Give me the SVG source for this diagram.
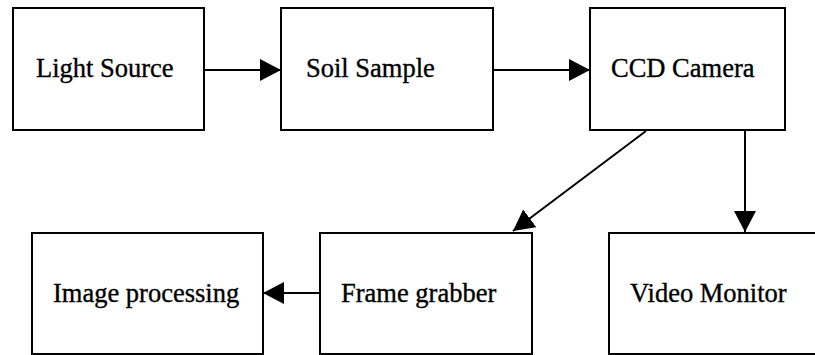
<svg xmlns="http://www.w3.org/2000/svg" width="815" height="355" viewBox="0 0 815 355">
<style>
.box{fill:#fff;stroke:#000;stroke-width:2}
.lbl{font-family:"Liberation Serif","Times New Roman",serif;font-size:26.5px;fill:#000;stroke:#000;stroke-width:0.35}
.con{stroke:#000;stroke-width:2;fill:none;marker-end:url(#ah)}
</style>
<defs>
<marker id="ah" markerUnits="userSpaceOnUse" markerWidth="22" markerHeight="22" refX="21" refY="11" orient="auto">
<path d="M0,0 L21,11 L0,22 z" fill="#000"/>
</marker>
</defs>
<rect width="815" height="355" fill="#fff"/>
<g id="light-source"><rect class="box" x="13" y="8" width="191" height="122"/><text class="lbl" x="36" y="77">Light Source</text></g>
<g id="soil-sample"><rect class="box" x="281" y="8" width="212" height="122"/><text class="lbl" x="306" y="77">Soil Sample</text></g>
<g id="ccd-camera"><rect class="box" x="590" y="8" width="195" height="122"/><text class="lbl" x="611" y="77">CCD Camera</text></g>
<g id="image-processing"><rect class="box" x="32" y="233" width="231" height="121"/><text class="lbl" x="53" y="302">Image processing</text></g>
<g id="frame-grabber"><rect class="box" x="320" y="233" width="212" height="121"/><text class="lbl" x="341" y="302">Frame grabber</text></g>
<g id="video-monitor"><rect class="box" x="609" y="233" width="230" height="121"/><text class="lbl" x="630" y="302">Video Monitor</text></g>
<g id="connectors">
<line class="con" x1="204" y1="70" x2="281" y2="70"/>
<line class="con" x1="493" y1="70" x2="590" y2="70"/>
<line class="con" x1="646" y1="131" x2="513" y2="231"/>
<line class="con" x1="745" y1="130" x2="745" y2="232"/>
<line class="con" x1="320" y1="293" x2="263" y2="293"/>
</g>
</svg>
